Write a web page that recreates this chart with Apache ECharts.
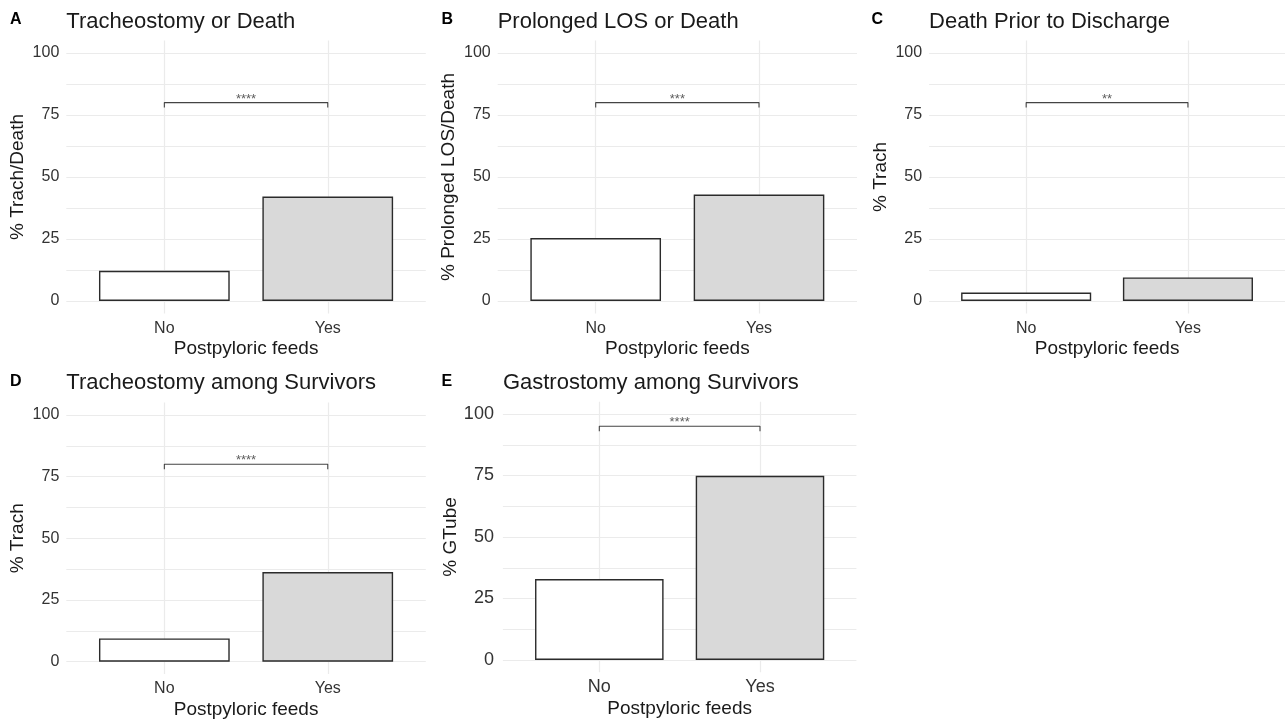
<!DOCTYPE html>
<html>
<head>
<meta charset="utf-8">
<script src="https://cdn.jsdelivr.net/npm/echarts@6/dist/echarts.min.js"></script>
<style>html,body{margin:0;padding:0;background:#fff}#c{width:1285px;height:720px}</style>
</head>
<body>
<div id="c"></div>
<script>
// ---- data ----
const categories = ['No', 'Yes'];
const panelLetters = ['A', 'B', 'C', 'D', 'E'];
const panelTitles = ['Tracheostomy or Death', 'Prolonged LOS or Death', 'Death Prior to Discharge', 'Tracheostomy among Survivors', 'Gastrostomy among Survivors'];
const yTitles = ['% Trach/Death', '% Prolonged LOS/Death', '% Trach', '% Trach', '% GTube'];
const xTitle = 'Postpyloric feeds';
const valuesA = [12.2, 42.1];
const valuesB = [25.4, 42.9];
const valuesC = [3.4, 9.5];
const valuesD = [9.4, 36.3];
const valuesE = [32.9, 74.9];
const sigLabels = ['****', '***', '**', '****', '****'];
const sigLevels = [80, 80, 80, 80, 95];
const yTicks = [0, 25, 50, 75, 100];
const yGridValues = [0, 12.5, 25, 37.5, 50, 62.5, 75, 87.5, 100];

// ---- layout / style ----
const allValues = [valuesA, valuesB, valuesC, valuesD, valuesE];
const layouts = [
  {left: 66.3, width: 359.5, top: 40.6, height: 272.8, lx: 10, tick: 16, titleTop: 10.5, letterTop: 12},
  {left: 497.7, width: 359.3, top: 40.6, height: 272.8, lx: 441.5, tick: 16, titleTop: 10.5, letterTop: 12},
  {left: 929.1, width: 357.7, top: 40.6, height: 272.8, lx: 871.5, tick: 16, titleTop: 10.5, letterTop: 12},
  {left: 66.3, width: 359.5, top: 402.6, height: 272.5, lx: 10, tick: 16, titleTop: 372, letterTop: 373.5},
  {left: 502.9, width: 353.5, top: 401.7, height: 270.6, lx: 441.5, tick: 18, titleTop: 372, letterTop: 373.5}
];
const FONT = '"Liberation Sans", Arial, Helvetica, sans-serif';
const fills = ['#ffffff', '#d9d9d9'];
const gridColor = '#ebebeb';

const chart = echarts.init(document.getElementById('c'), null, {renderer: 'canvas'});
const option = {
  backgroundColor: '#ffffff',
  animation: false,
  textStyle: {fontFamily: FONT},
  title: [], grid: [], xAxis: [], yAxis: [], series: []
};

layouts.forEach((L, i) => {
  option.title.push({
    text: panelLetters[i], left: L.lx, top: L.letterTop, padding: 0,
    textStyle: {fontFamily: FONT, fontWeight: 'bold', fontSize: 16, lineHeight: 16, color: '#000'}
  });
  option.title.push({
    text: panelTitles[i], left: L.left, top: L.titleTop, padding: 0,
    textStyle: {fontFamily: FONT, fontWeight: 'normal', fontSize: 22, lineHeight: 22, color: '#1a1a1a'}
  });
  option.grid.push({left: L.left, width: L.width, top: L.top, height: L.height, containLabel: false});
  option.xAxis.push({
    type: 'value', gridIndex: i, min: 0.4, max: 2.6,
    name: xTitle, nameLocation: 'middle', nameGap: i === 4 ? 27 : 26,
    nameTextStyle: {fontFamily: FONT, fontSize: 19, color: '#1a1a1a'},
    axisLine: {show: false, onZero: false},
    axisTick: {show: false, customValues: [1, 2]},
    axisLabel: {customValues: [1, 2], formatter: v => categories[Math.round(v) - 1], fontFamily: FONT,
      fontSize: L.tick, color: '#333333', margin: i === 4 ? 6 : 7},
    splitLine: {show: true, lineStyle: {color: gridColor, width: 1.2}}
  });
  option.yAxis.push({
    type: 'value', gridIndex: i, min: -5, max: 105,
    name: yTitles[i], nameLocation: 'middle', nameRotate: 90, nameGap: 39,
    nameTextStyle: {fontFamily: FONT, fontSize: 19, color: '#1a1a1a'},
    axisLine: {show: false, onZero: false},
    axisTick: {show: false, customValues: yGridValues},
    axisLabel: {customValues: yTicks, fontFamily: FONT, fontSize: L.tick, color: '#333333', margin: i === 4 ? 9 : 7},
    splitLine: {show: true, lineStyle: {color: gridColor, width: 1}}
  });
  const unitPx = L.width / 2.2;
  option.series.push({
    type: 'bar', xAxisIndex: i, yAxisIndex: i, barWidth: unitPx * 0.8,
    data: allValues[i].map((v, k) => ({value: [k + 1, v], itemStyle: {color: fills[k]}})),
    itemStyle: {borderColor: '#2b2b2b', borderWidth: 1.4}
  });
  const s = sigLevels[i];
  option.series.push({
    type: 'line', xAxisIndex: i, yAxisIndex: i, symbol: 'none', silent: true,
    data: [[1, s - 2], [1, s], [2, s], [2, s - 2]],
    lineStyle: {color: '#444444', width: 1.1}
  });
  option.series.push({
    type: 'scatter', xAxisIndex: i, yAxisIndex: i, symbolSize: 0, silent: true,
    data: [[1.5, s]],
    label: {show: true, position: 'top', distance: 0, offset: [0, 3], formatter: sigLabels[i], fontFamily: FONT, fontSize: 13, color: '#333333'}
  });
});

chart.setOption(option);
</script>
</body>
</html>
